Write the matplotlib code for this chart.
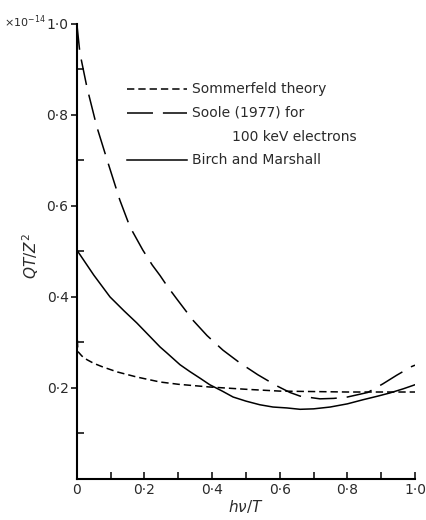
import matplotlib
matplotlib.use("Agg")
import matplotlib.pyplot as plt
from matplotlib.lines import Line2D

# ---- data ----
soole_x = [0.0, 0.009, 0.03, 0.059, 0.092, 0.127, 0.157, 0.195, 0.223, 0.246, 0.266, 0.296,
           0.343, 0.385, 0.432, 0.482, 0.535, 0.59, 0.63, 0.66, 0.719, 0.76, 0.80, 0.86,
           0.905, 0.946, 0.99, 1.0]
soole_y = [1.0, 0.936, 0.86, 0.774, 0.695, 0.613, 0.554, 0.503, 0.47, 0.447, 0.425, 0.395,
           0.349, 0.315, 0.283, 0.255, 0.229, 0.205, 0.19, 0.182, 0.176, 0.177, 0.18, 0.19,
           0.209, 0.228, 0.247, 0.25]

birch_x = [0.0, 0.05, 0.098, 0.14, 0.177, 0.22, 0.246, 0.266, 0.305, 0.334, 0.365, 0.393,
           0.43, 0.462, 0.50, 0.541, 0.58, 0.621, 0.66, 0.70, 0.749, 0.80, 0.846, 0.89,
           0.926, 0.965, 1.0]
birch_y = [0.503, 0.448, 0.40, 0.369, 0.343, 0.31, 0.29, 0.277, 0.251, 0.236, 0.221, 0.207,
           0.193, 0.18, 0.171, 0.163, 0.158, 0.156, 0.153, 0.154, 0.158, 0.165, 0.174, 0.182,
           0.189, 0.198, 0.207]

somm_x = [0.0, 0.003, 0.015, 0.03, 0.05, 0.077, 0.12, 0.177, 0.246, 0.30, 0.393, 0.50,
          0.60, 0.70, 0.80, 0.90, 1.0]
somm_y = [0.33, 0.28, 0.27, 0.262, 0.254, 0.246, 0.235, 0.224, 0.213, 0.208, 0.202, 0.197,
          0.193, 0.192, 0.191, 0.191, 0.191]

major_ticks = [0.0, 0.2, 0.4, 0.6, 0.8, 1.0]
tick_labels = ["0", "0·2", "0·4", "0·6", "0·8", "1·0"]
minor_ticks = [0.1, 0.3, 0.5, 0.7, 0.9]

txt = "#2a2a2a"
plt.rcParams['font.family'] = ['DejaVu Sans']

SHORT = (4.8, 2.6)
LONG = (17, 6.5)

fig = plt.figure(figsize=(4.27, 5.20), dpi=100)
ax = fig.add_axes([0.180, 0.079, 0.792, 0.875])

ax.plot(somm_x, somm_y, color="black", lw=1.1, dashes=SHORT)
ax.plot(soole_x, soole_y, color="black", lw=1.1, dashes=LONG)
ax.plot(birch_x, birch_y, color="black", lw=1.1)

ax.set_xlim(0, 1.0)
ax.set_ylim(0, 1.0)
for s in ["top", "right"]:
    ax.spines[s].set_visible(False)
for s in ["left", "bottom"]:
    ax.spines[s].set_linewidth(1.5)

ax.set_xticks(major_ticks)
ax.set_xticklabels(tick_labels)
ax.set_xticks(minor_ticks, minor=True)
ax.set_yticks(major_ticks[1:])
ax.set_yticklabels(tick_labels[1:])
ax.set_yticks(minor_ticks, minor=True)

ax.tick_params(axis="x", which="both", direction="in", length=5, width=1.1,
               labelsize=10, labelcolor=txt, pad=3)
ax.tick_params(axis="y", which="major", direction="out", length=4, width=1.1,
               labelsize=10, labelcolor=txt, pad=2)
ax.tick_params(axis="y", which="minor", direction="in", length=5, width=1.1)

ax.set_xlabel(r"$h\nu/T$", fontsize=11, color=txt, labelpad=1)
ax.set_ylabel(r"$QT/Z^2$", fontsize=11, color=txt)
ax.yaxis.set_label_coords(-0.105, 0.49)

# exponent label at top-left
fig.text(4 / 427, 1 - 22 / 520, r"×10$^{-14}$", fontsize=8, color=txt,
         ha="left", va="center")

# key drawn in figure coordinates
def fx(px):
    return px / 427

def fy(py):
    return 1 - py / 520

x0, x1 = fx(127), fx(187)
fig.add_artist(Line2D([x0, x1], [fy(89), fy(89)], color="black", lw=1.1, dashes=SHORT))
fig.add_artist(Line2D([x0, x1], [fy(113), fy(113)], color="black", lw=1.1, dashes=LONG))
fig.add_artist(Line2D([x0, x1], [fy(160), fy(160)], color="black", lw=1.1))
fig.text(fx(192), fy(89), "Sommerfeld theory", fontsize=10, color=txt, va="center")
fig.text(fx(192), fy(113), "Soole (1977) for", fontsize=10, color=txt, va="center")
fig.text(fx(232), fy(137), "100 keV electrons", fontsize=10, color=txt, va="center")
fig.text(fx(192), fy(160), "Birch and Marshall", fontsize=10, color=txt, va="center")

fig.savefig("out.png", dpi=100)
